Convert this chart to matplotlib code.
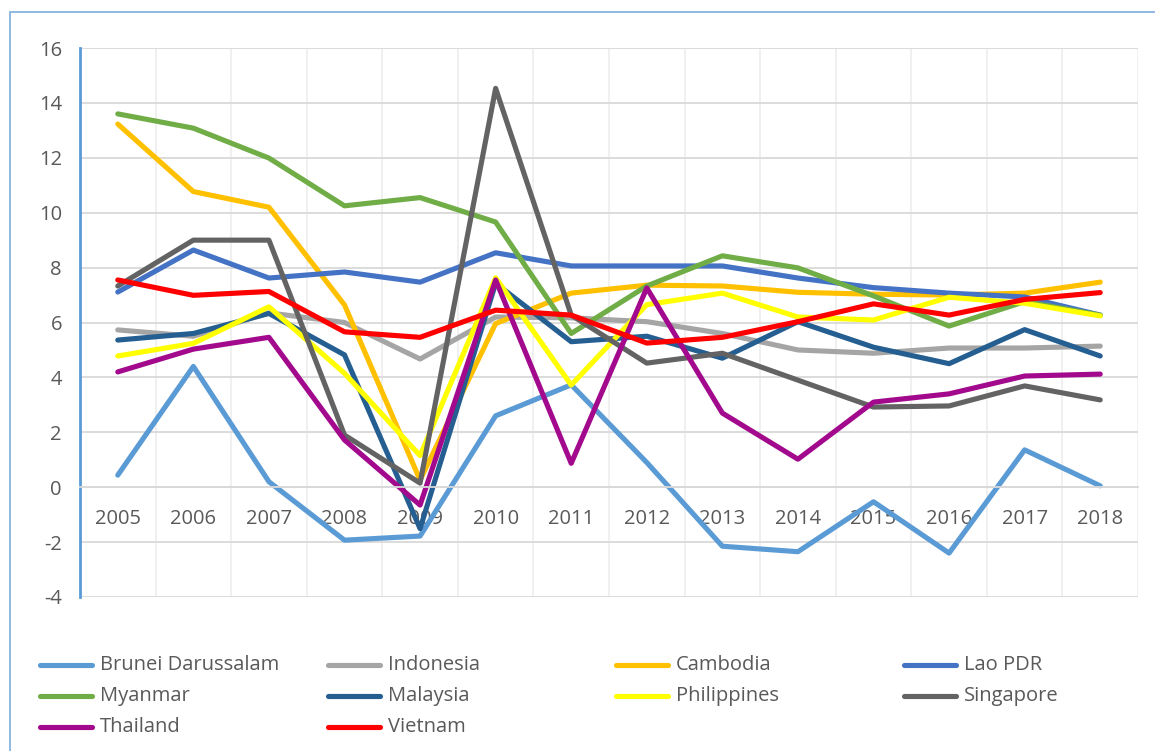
import matplotlib
matplotlib.use("Agg")
import matplotlib.pyplot as plt
from matplotlib.lines import Line2D
from matplotlib.patches import Rectangle

years = ["2005", "2006", "2007", "2008", "2009", "2010", "2011",
         "2012", "2013", "2014", "2015", "2016", "2017", "2018"]

brunei = [0.44, 4.4, 0.2, -1.93, -1.78, 2.6, 3.73, 0.9, -2.15, -2.35, -0.53, -2.4, 1.36, 0.05]
indonesia = [5.73, 5.5, 6.35, 6.0, 4.67, 6.2, 6.17, 6.03, 5.6, 5.0, 4.88, 5.07, 5.07, 5.14]
cambodia = [13.23, 10.77, 10.2, 6.64, 0.26, 5.96, 7.07, 7.36, 7.33, 7.1, 7.03, 7.0, 7.07, 7.47]
lao = [7.11, 8.64, 7.62, 7.84, 7.47, 8.54, 8.06, 8.06, 8.06, 7.62, 7.27, 7.07, 6.93, 6.27]
myanmar = [13.6, 13.08, 11.99, 10.25, 10.55, 9.66, 5.6, 7.33, 8.43, 7.99, 6.97, 5.87, 6.76, 6.27]
malaysia = [5.36, 5.6, 6.33, 4.82, -1.51, 7.43, 5.3, 5.5, 4.7, 6.03, 5.1, 4.5, 5.74, 4.78]
philippines = [4.78, 5.24, 6.57, 4.15, 1.15, 7.63, 3.72, 6.65, 7.07, 6.2, 6.09, 6.92, 6.7, 6.24]
singapore = [7.33, 9.0, 9.0, 1.9, 0.15, 14.53, 6.27, 4.52, 4.88, 3.9, 2.92, 2.96, 3.69, 3.18]
thailand = [4.2, 5.03, 5.46, 1.72, -0.65, 7.55, 0.87, 7.26, 2.7, 1.02, 3.1, 3.4, 4.05, 4.12]
vietnam = [7.55, 6.99, 7.13, 5.66, 5.46, 6.45, 6.27, 5.25, 5.46, 6.03, 6.68, 6.27, 6.84, 7.09]

names = ["Brunei Darussalam", "Indonesia", "Cambodia", "Lao PDR", "Myanmar",
         "Malaysia", "Philippines", "Singapore", "Thailand", "Vietnam"]
series = [brunei, indonesia, cambodia, lao, myanmar,
          malaysia, philippines, singapore, thailand, vietnam]
colors = ["#5B9BD5", "#A5A5A5", "#FFC000", "#4472C4", "#70AD47",
          "#255E91", "#FFFF00", "#636363", "#A2098C", "#FF0000"]

plt.rcParams["font.family"] = ["Open Sans", "DejaVu Sans"]
plt.rcParams["axes.unicode_minus"] = False
W, H = 1155, 751
fig = plt.figure(figsize=(W / 100, H / 100), dpi=100)

# outer chart border (Excel frame)
fig.patches.append(Rectangle((10 / W, -0.05), 1.2, 1 - 12 / H + 0.05,
                             transform=fig.transFigure, fill=False,
                             edgecolor="#8FB8E0", lw=1.4))

ax = fig.add_axes([80 / W, 1 - 597 / H, (1138 - 80) / W, (597 - 48) / H])
x = list(range(len(years)))
for vals, col in zip(series, colors):
    ax.plot(x, vals, color=col, lw=3.7, solid_capstyle="round", solid_joinstyle="round")

ax.set_xlim(-0.5, len(years) - 0.5)
ax.set_ylim(-4, 16)
ax.set_yticks(range(-4, 17, 2))
ax.set_xticks(x)
ax.set_xticklabels(years)
ax.set_xticks([i - 0.5 for i in range(len(years) + 1)] + [i for i in x], minor=True)
ax.grid(True, which="major", axis="y", color="#D9D9D9", lw=1.3)
ax.grid(True, which="minor", axis="x", color="#EEEEEE", lw=1.2)
ax.set_axisbelow(True)

for s in ["top", "right"]:
    ax.spines[s].set_visible(False)
ax.spines["left"].set_color("#5B9BD5")
ax.spines["left"].set_linewidth(2)
ax.spines["bottom"].set_position(("data", 0))
ax.spines["bottom"].set_color("#D9D9D9")
ax.spines["bottom"].set_linewidth(1.3)

ax.tick_params(axis="both", which="both", length=0, labelsize=14.5, labelcolor="#595959")
ax.tick_params(axis="x", pad=16)
ax.tick_params(axis="y", pad=13)

# legend, 4 columns
for i, (name, col) in enumerate(zip(names, colors)):
    r, c = divmod(i, 4)
    px = 40 + c * 288
    py = 1 - (665 + r * 31) / H
    fig.add_artist(Line2D([px / W, (px + 52) / W], [py, py], color=col, lw=3.7,
                          transform=fig.transFigure, solid_capstyle="round"))
    fig.text((px + 60) / W, py, name, fontsize=14.5, color="#595959", va="center")

fig.savefig("out.png", dpi=100)
